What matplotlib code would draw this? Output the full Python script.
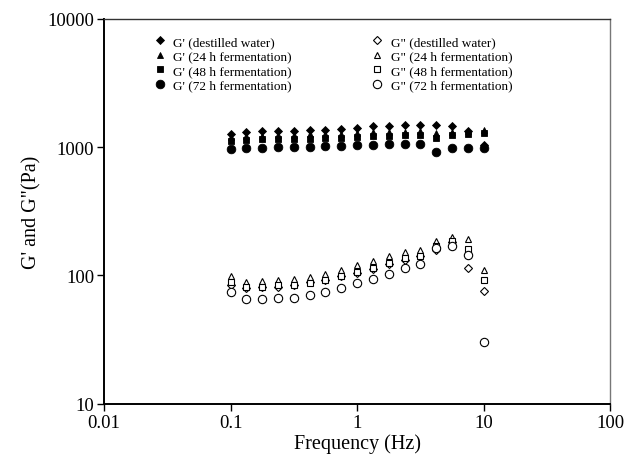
import numpy as np
import matplotlib
matplotlib.use('Agg')
import matplotlib.pyplot as plt
from matplotlib.ticker import FixedLocator, NullLocator

plt.rcParams['font.family'] = ['Liberation Serif', 'DejaVu Serif']

#%% Data
freq = [0.1, 0.133, 0.178, 0.237, 0.316, 0.422, 0.562, 0.75, 1.0,
        1.33, 1.78, 2.37, 3.16, 4.22, 5.62, 7.5, 10.0]

# storage modulus G' (Pa)
g1_water = [1270, 1310, 1325, 1330, 1345, 1350, 1365, 1375, 1415,
            1455, 1460, 1475, 1475, 1475, 1460, 1340, 1030]
g1_24h   = [1200, 1215, 1230, 1235, 1250, 1255, 1265, 1270, 1290,
            1305, 1310, 1320, 1325, 1290, 1300, 1340, 1350]
g1_48h   = [1115, 1127, 1148, 1148, 1163, 1163, 1178, 1178, 1200,
            1221, 1221, 1234, 1234, 1183, 1234, 1271, 1294]
g1_72h   = [972, 984, 989, 995, 1000, 1006, 1013, 1020, 1030,
            1044, 1050, 1063, 1063, 916, 984, 984, 984]

# loss modulus G'' (Pa)
g2_water = [83.6, 79.8, 81.2, 82.0, 83.6, 88.9, 92.5, 99.0, 105,
            112.8, 123, 133, 141.6, 156.6, 182, 114.8, 75.5]
g2_24h   = [99, 88.9, 89.8, 92.5, 94.2, 97.2, 103, 111, 121,
            128.5, 140.6, 152, 156.6, 184, 199, 193, 111]
g2_48h   = [88.9, 81.2, 81.2, 83.6, 84.6, 87.8, 92.5, 99, 106,
            114, 125.6, 136.7, 143, 169.5, 184, 159.5, 91.4]
g2_72h   = [74.2, 65, 65, 66.7, 66.7, 69.8, 74.2, 79.8, 87.7,
            94.2, 103, 114, 123, 163.5, 171, 145, 30.3]

labels_g1 = ["G' (destilled water)", "G' (24 h fermentation)",
             "G' (48 h fermentation)", "G' (72 h fermentation)"]
labels_g2 = ['G" (destilled water)', 'G" (24 h fermentation)',
             'G" (48 h fermentation)', 'G" (72 h fermentation)']

xticks = [0.01, 0.1, 1, 10, 100]
xtick_labels = ['0.01', '0.1', '1', '10', '100']
yticks = [10, 100, 1000, 10000]
ytick_labels = ['10', '100', '1000', '10000']

#%% Figure
fig = plt.figure(figsize=(6.26, 4.60), dpi=100)
ax = fig.add_axes([0.166, 0.12, 0.809, 0.837])

markers = ['D', '^', 's', 'o']
sizes   = [4.0, 5.0, 4.6, 6.2]
sizes2  = [3.6, 4.8, 4.0, 6.0]

handles = []
for ys, m, ms, lab in zip([g1_water, g1_24h, g1_48h, g1_72h], markers, sizes, labels_g1):
    h, = ax.plot(freq, ys, ls='none', marker=m, ms=ms, mfc='black', mec='black',
                 mew=0.6, label=lab)
    handles.append(h)
for ys, m, ms, lab in zip([g2_water, g2_24h, g2_48h, g2_72h], markers, sizes2, labels_g2):
    h, = ax.plot(freq, ys, ls='none', marker=m, ms=ms, mfc='white', mec='black',
                 mew=0.8, label=lab)
    handles.append(h)

ax.set_xscale('log')
ax.set_yscale('log')
ax.set_xlim(0.01, 100)
ax.set_ylim(10, 10000)

ax.xaxis.set_major_locator(FixedLocator(xticks))
ax.xaxis.set_minor_locator(NullLocator())
ax.yaxis.set_major_locator(FixedLocator(yticks))
ax.yaxis.set_minor_locator(NullLocator())
ax.set_xticklabels(xtick_labels)
ax.set_yticklabels(ytick_labels)

ax.tick_params(axis='both', direction='out', length=5, width=1.0,
               labelsize=13.5, pad=2)
ax.tick_params(top=False, right=False)

ax.spines['left'].set_linewidth(1.4)
ax.spines['bottom'].set_linewidth(1.4)
ax.spines['top'].set_linewidth(1.0)
ax.spines['top'].set_color('#333333')
ax.spines['right'].set_linewidth(1.0)
ax.spines['right'].set_color('#777777')

ax.set_xlabel('Frequency (Hz)', fontsize=14.5, labelpad=2)
ax.set_ylabel('G\' and G"(Pa)', fontsize=14.5, labelpad=4)

ax.legend(handles=handles, ncol=2, frameon=False, loc='upper left',
          bbox_to_anchor=(0.079, 0.98), fontsize=9.5, handlelength=1.0,
          handletextpad=0.5, columnspacing=6.0, labelspacing=0.17,
          borderpad=0.2, numpoints=1)

fig.savefig('out.png', dpi=100)
